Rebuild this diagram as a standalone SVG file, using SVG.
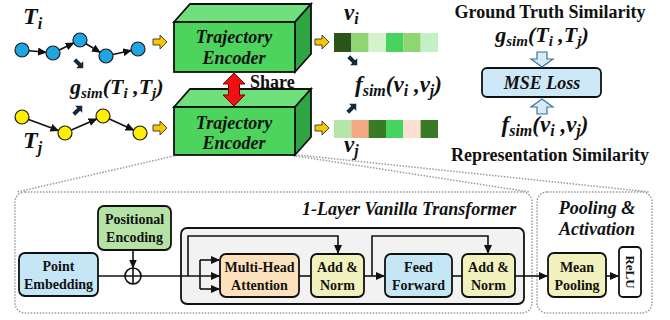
<svg xmlns="http://www.w3.org/2000/svg" width="670" height="320" viewBox="0 0 670 320" font-family="'Liberation Serif', 'Times New Roman', Times, serif">
<style>
text{font-weight:bold;fill:#111}
.it{font-style:italic}
.c{text-anchor:middle}
.n{font-size:14px}
.box{stroke:#111;stroke-width:1.8}
.ln{stroke:#111;stroke-width:1.6;fill:none}
.dot{stroke:#9a9a9a;stroke-width:1.5;stroke-dasharray:1.5 1.5;fill:none}
.ya{fill:#f7c600;stroke:#333;stroke-width:0.9}
.da{fill:#15293a}
.ba{fill:#d4ecf8;stroke:#3f7393;stroke-width:1.2}
</style>
<defs>
<marker id="ah" markerUnits="userSpaceOnUse" markerWidth="9" markerHeight="8" refX="8" refY="4" orient="auto"><path d="M0,0 L9,4 L0,8 z" fill="#111"/></marker>
<path id="yarr" d="M0,-3 L7,-3 L7,-7 L14,0 L7,7 L7,3 L0,3 z"/>
<path id="darr" d="M-6,-2 L1,-2 L1,-5 L6,0 L1,5 L1,2 L-6,2 z"/>
</defs>

<!-- panels -->
<g id="panel-transformer"><rect x="15" y="192" width="517" height="121" rx="10" fill="#fce4d6" class="dot"/>
<text x="302" y="215" class="it" font-size="18">1-Layer Vanilla Transformer</text></g>
<g id="panel-pooling"><rect x="537" y="192" width="115" height="121" rx="10" fill="#d9d9d9" class="dot"/>
<text x="597" y="214" class="it c" font-size="18">Pooling &amp;</text>
<text x="597" y="235" class="it c" font-size="18">Activation</text></g>

<!-- trajectories -->
<g id="traj-i">
<text x="23" y="24" class="it" font-size="24">T<tspan font-size="16" dy="5">i</tspan></text>
<g class="ln" marker-end="url(#ah)">
<line x1="29" y1="50.7" x2="46" y2="52.3"/><line x1="59.3" y1="50" x2="73.7" y2="43"/><line x1="86" y1="43.7" x2="100" y2="52.3"/><line x1="112.8" y1="54.5" x2="131.2" y2="50.5"/>
</g>
<g fill="#1ea6e3" stroke="#1a1a1a" stroke-width="1.2">
<circle cx="22" cy="50" r="7"/><circle cx="53" cy="53" r="7"/><circle cx="80" cy="40" r="7"/><circle cx="106" cy="56" r="7"/><circle cx="138" cy="49" r="7"/>
</g></g>
<g id="traj-j">
<text x="23" y="148" class="it" font-size="24">T<tspan font-size="16" dy="5">j</tspan></text>
<g class="ln" marker-end="url(#ah)">
<line x1="28.6" y1="119.4" x2="58.4" y2="130.6"/><line x1="71.4" y1="130.1" x2="96.6" y2="118.9"/><line x1="109.4" y1="118.9" x2="133.6" y2="130.1"/>
</g>
<g fill="#ffee00" stroke="#1a1a1a" stroke-width="1.2">
<circle cx="22" cy="117" r="7"/><circle cx="65" cy="133" r="7"/><circle cx="103" cy="116" r="7"/><circle cx="140" cy="133" r="7"/>
</g></g>
<g id="gsim-left">
<text x="70" y="94" class="it" font-size="22">g<tspan font-size="15" dy="4">sim</tspan><tspan dy="-4">(T</tspan><tspan font-size="15" dy="4">i</tspan><tspan dy="-4"> ,T</tspan><tspan font-size="15" dy="4">j</tspan><tspan dy="-4">)</tspan></text>
</g>

<!-- encoders -->
<g id="encoder-top">
<polygon points="174,22 190,4 311,4 295,22" fill="#6fe07c" class="box"/>
<polygon points="295,22 311,4 311,54 295,72" fill="#2fa443" class="box"/>
<rect x="174" y="22" width="121" height="50" fill="#4cd45c" class="box"/>
<text x="234" y="43" class="it c" font-size="18">Trajectory</text>
<text x="234" y="64" class="it c" font-size="18">Encoder</text>
</g>
<g id="encoder-bottom">
<polygon points="174,107 190,89 311,89 295,107" fill="#6fe07c" class="box"/>
<polygon points="295,107 311,89 311,137 295,155" fill="#2fa443" class="box"/>
<rect x="174" y="107" width="121" height="48" fill="#4cd45c" class="box"/>
<text x="234" y="129" class="it c" font-size="18">Trajectory</text>
<text x="234" y="149" class="it c" font-size="18">Encoder</text>
</g>
<g id="share">
<path d="M234,73 L245,84 L239.5,84 L239.5,95 L245,95 L234,106 L223,95 L228.5,95 L228.5,84 L223,84 z" fill="#ee1111" stroke="#7a0000" stroke-width="1"/>
<text x="250" y="88" font-size="18">Share</text>
</g>

<!-- vectors -->
<g id="vec-i">
<rect x="334" y="33" width="17.4" height="19" fill="#2b541a"/><rect x="351.3" y="33" width="17.4" height="19" fill="#8fd673"/><rect x="368.6" y="33" width="17.4" height="19" fill="#d6f2cd"/><rect x="386" y="33" width="17.4" height="19" fill="#47d45e"/><rect x="403.3" y="33" width="17.4" height="19" fill="#8fd673"/><rect x="420.6" y="33" width="17.4" height="19" fill="#c4f0c8"/>
<text x="344" y="20" class="it" font-size="23">v<tspan font-size="16" dy="4">i</tspan></text>
</g>
<g id="vec-j">
<rect x="334" y="120" width="17.4" height="18" fill="#b3e6a8"/><rect x="351.3" y="120" width="17.4" height="18" fill="#f2a884"/><rect x="368.6" y="120" width="17.4" height="18" fill="#3a7a25"/><rect x="386" y="120" width="17.4" height="18" fill="#47d45e"/><rect x="403.3" y="120" width="17.4" height="18" fill="#fce0d4"/><rect x="420.6" y="120" width="17.4" height="18" fill="#3a7a25"/>
<text x="344" y="152" class="it" font-size="23">v<tspan font-size="16" dy="4">j</tspan></text>
</g>
<g id="fsim-mid">
<text x="355" y="92" class="it" font-size="23">f<tspan font-size="16" dy="4">sim</tspan><tspan dy="-4">(v</tspan><tspan font-size="16" dy="4">i</tspan><tspan dy="-4"> ,v</tspan><tspan font-size="16" dy="4">j</tspan><tspan dy="-4">)</tspan></text>
</g>

<!-- right loss -->
<g id="ground-truth">
<text x="550" y="18" class="c" font-size="18">Ground Truth Similarity</text>
<text x="542" y="42" class="it c" font-size="22">g<tspan font-size="15" dy="4">sim</tspan><tspan dy="-4">(T</tspan><tspan font-size="15" dy="4">i</tspan><tspan dy="-4"> ,T</tspan><tspan font-size="15" dy="4">j</tspan><tspan dy="-4">)</tspan></text>
</g>
<g id="mse-loss">
<rect x="482" y="68" width="119" height="29" rx="5" fill="#cde9f7" class="box"/>
<text x="542" y="89" class="it c" font-size="18">MSE Loss</text>
</g>
<g id="rep-sim">
<text x="545" y="132" class="it c" font-size="23">f<tspan font-size="16" dy="4">sim</tspan><tspan dy="-4">(v</tspan><tspan font-size="16" dy="4">i</tspan><tspan dy="-4"> ,v</tspan><tspan font-size="16" dy="4">j</tspan><tspan dy="-4">)</tspan></text>
<text x="550" y="161" class="c" font-size="18">Representation Similarity</text>
</g>

<!-- bottom nodes -->
<g id="point-embedding"><rect x="19" y="253" width="79" height="43" rx="6" fill="#c5e6f5" class="box"/>
<text x="58.5" y="271" class="c n">Point</text><text x="58.5" y="289" class="c n">Embedding</text></g>
<g id="positional-encoding"><rect x="98" y="206" width="73" height="44" rx="6" fill="#b5e3a5" class="box"/>
<text x="134.5" y="224" class="c n">Positional</text><text x="134.5" y="242" class="c n">Encoding</text></g>
<g id="transformer-block"><rect x="181" y="228" width="343" height="76" rx="6" fill="#f2f2f2" class="box"/></g>
<g id="plus"><circle cx="133" cy="276" r="8" fill="none" stroke="#111" stroke-width="1.6"/><path d="M125,276 H141 M133,268 V284" class="ln"/></g>
<g id="mha"><rect x="220" y="254" width="79" height="43" rx="6" fill="#fde1bd" class="box"/>
<text x="259.5" y="272" class="c n">Multi-Head</text><text x="259.5" y="290" class="c n">Attention</text></g>
<g id="addnorm1"><rect x="311" y="254" width="53" height="43" rx="6" fill="#f1f1bd" class="box"/>
<text x="337.5" y="272" class="c n">Add &amp;</text><text x="337.5" y="290" class="c n">Norm</text></g>
<g id="feed-forward"><rect x="385" y="254" width="67" height="43" rx="6" fill="#c5e6f5" class="box"/>
<text x="418.5" y="272" class="c n">Feed</text><text x="418.5" y="290" class="c n">Forward</text></g>
<g id="addnorm2"><rect x="462" y="254" width="53" height="43" rx="6" fill="#f1f1bd" class="box"/>
<text x="488.5" y="272" class="c n">Add &amp;</text><text x="488.5" y="290" class="c n">Norm</text></g>
<g id="mean-pooling"><rect x="548" y="253" width="58" height="44" rx="6" fill="#f1f1bd" class="box"/>
<text x="577" y="272" class="c n">Mean</text><text x="577" y="290" class="c n">Pooling</text></g>
<g id="relu"><rect x="619" y="247" width="22" height="50" rx="4" fill="#ffffff" class="box"/>
<text transform="translate(625.5,272) rotate(90)" class="c" font-size="13">ReLU</text></g>

<!-- connectors -->
<g id="connectors">
<path class="dot" d="M174,156 L17,192 M296,156 L530,192 M298,155 L650,192"/>
<use href="#yarr" x="153" y="42" class="ya"/>
<use href="#yarr" x="153" y="128" class="ya"/>
<use href="#yarr" x="315" y="42" class="ya"/>
<use href="#yarr" x="315" y="128" class="ya"/>
<use href="#darr" class="da" transform="translate(79,64) rotate(45)"/>
<use href="#darr" class="da" transform="translate(78,110) rotate(-45)"/>
<use href="#darr" class="da" transform="translate(353,61) rotate(45)"/>
<use href="#darr" class="da" transform="translate(352,108) rotate(-45)"/>
<path class="ba" d="M537,52 H547 V59 H553 L542,67 L531,59 H537 z"/>
<path class="ba" d="M537,114 H547 V107 H553 L542,99 L531,107 H537 z"/>
<path class="ln" d="M133,250 V267.5" marker-end="url(#ah)"/>
<path class="ln" d="M98,276 H125 M141,276 H219" marker-end="url(#ah)"/>
<path class="ln" d="M200,260 V289"/>
<path class="ln" d="M200,260 H219" marker-end="url(#ah)"/>
<path class="ln" d="M200,289 H219" marker-end="url(#ah)"/>
<path class="ln" d="M188,276 V236 H338 V253" marker-end="url(#ah)"/>
<path class="ln" d="M299,276 H311"/>
<path class="ln" d="M364,276 H384" marker-end="url(#ah)"/>
<path class="ln" d="M372,276 V236 H488 V253" marker-end="url(#ah)"/>
<path class="ln" d="M452,276 H462"/>
<path class="ln" d="M515,276 H547" marker-end="url(#ah)"/>
<path class="ln" d="M606,276 H618" marker-end="url(#ah)"/>
</g>
</svg>
